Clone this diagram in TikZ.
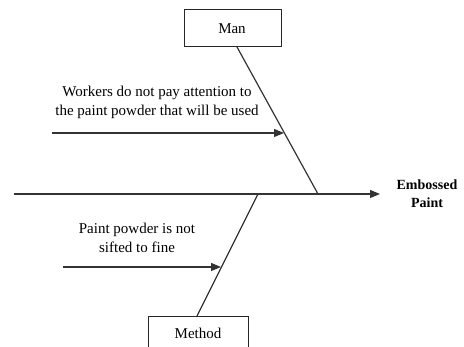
\documentclass[tikz,border=0pt]{standalone}
\usepackage{fontspec}
\setmainfont{Liberation Serif}
\usetikzlibrary{arrows.meta}
\begin{document}
\begin{tikzpicture}[x=1pt,y=-1pt,
  bone/.style={draw=black!80, line width=1.2pt},
  cause/.style={bone, -{Triangle[length=10pt,width=8pt]}},
  catbox/.style={draw=black!85, line width=1pt, fill=white, inner sep=0pt},
  lbl/.style={align=center, font=\fontsize{15}{19}\selectfont, inner sep=0pt},
  effect/.style={align=center, font=\bfseries\fontsize{14}{18}\selectfont, inner sep=0pt}]
\useasboundingbox (0,0) rectangle (464,347);
\clip (0,0) rectangle (464,347);
% spine and head
\coordinate (tail) at (14,194);
\coordinate (head) at (380,194);
\coordinate (jtop) at (318,194);
\coordinate (jbot) at (258,194);
\node[effect] (eff) at (427,194) {Embossed\\Paint};
\draw[cause] (tail) -- (head);
% category boxes
\node[catbox, minimum width=97pt, minimum height=37pt] (man) at (232.5,28.5) {};
\node[font=\fontsize{15}{18}\selectfont, inner sep=0pt] (mantxt) at (232,29) {Man};
\node[catbox, anchor=north west, minimum width=100pt, minimum height=40pt] (method) at (148,316) {};
\node[font=\fontsize{15}{18}\selectfont, inner sep=0pt] (methodtxt) at (198,333) {Method};
% category bones
\coordinate (manfoot) at (237,47);
\coordinate (methodtop) at (197,316);
\draw[bone] (manfoot) -- (jtop);
\draw[bone] (methodtop) -- (jbot);
% causes
\coordinate (c1s) at (52,133);
\coordinate (c1e) at (284,133);
\coordinate (c2s) at (63,267);
\coordinate (c2e) at (221,267);
\draw[cause] (c1s) -- (c1e);
\draw[cause] (c2s) -- (c2e);
\node[lbl] (l1) at (157,102.5) {Workers do not pay attention to\\the paint powder that will be used};
\node[lbl] (l2) at (137,237.5) {Paint powder is not\\sifted to fine};
\end{tikzpicture}
\end{document}
